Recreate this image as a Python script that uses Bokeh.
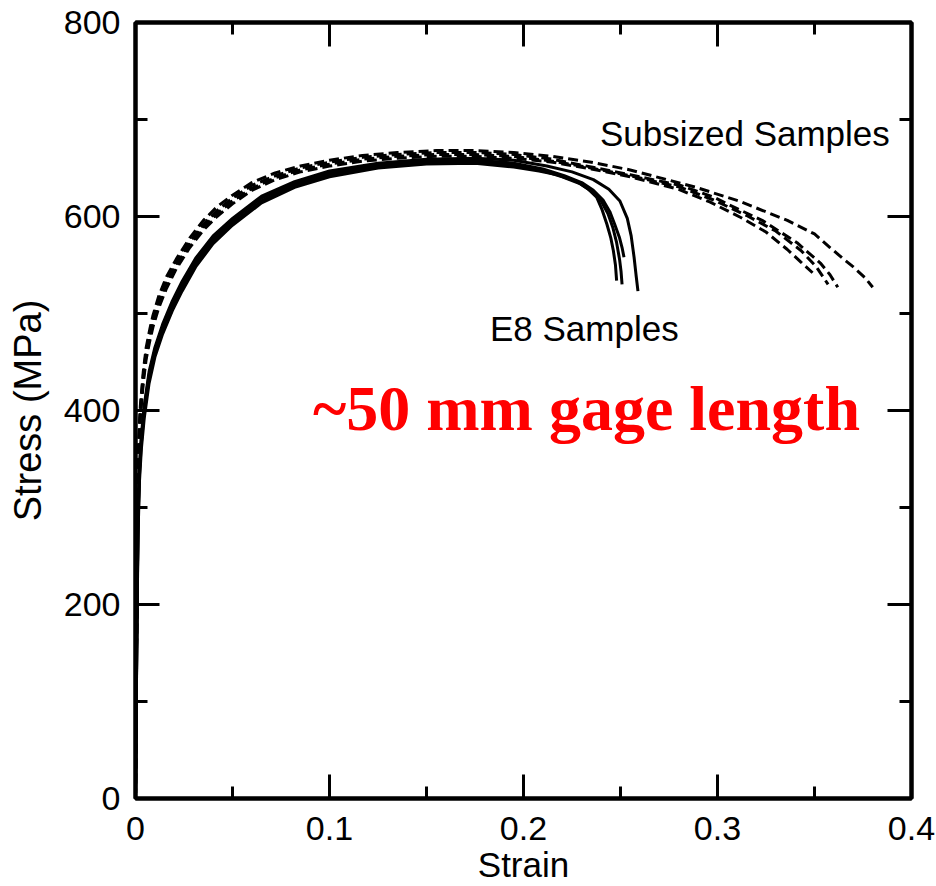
from bokeh.plotting import figure
from bokeh.models import Range1d, FixedTicker, LinearAxis, Label
from bokeh.embed import file_html
from bokeh.resources import INLINE

# ---------------- data ----------------
x_ticks = [0, 0.1, 0.2, 0.3, 0.4]
x_tick_labels = ["0", "0.1", "0.2", "0.3", "0.4"]
x_minor = [0.05, 0.15, 0.25, 0.35]
y_ticks = [0, 200, 400, 600, 800]
y_tick_labels = ["0", "200", "400", "600", "800"]
y_minor = [100, 300, 500, 700]

# E8 samples (solid)
e8_a_strain = [0, 0.0008, 0.0013, 0.002, 0.003, 0.0045, 0.007, 0.010, 0.014, 0.019, 0.024, 0.031, 0.040, 0.050, 0.065, 0.082, 0.100, 0.125, 0.150, 0.175, 0.195, 0.208, 0.2175, 0.2275, 0.233, 0.2377, 0.2405, 0.243, 0.245, 0.2463, 0.2474, 0.248]
e8_a_stress = [0, 185, 270, 325, 360, 392, 428, 455, 479, 503, 523, 548, 572, 591, 614, 630, 641, 650, 654, 655, 651, 647, 643, 636, 629, 620, 607, 592, 578, 565, 550, 534]
e8_b_strain = [0, 0.0008, 0.0013, 0.002, 0.003, 0.0045, 0.007, 0.010, 0.014, 0.019, 0.024, 0.031, 0.040, 0.050, 0.065, 0.082, 0.100, 0.125, 0.150, 0.175, 0.195, 0.210, 0.220, 0.229, 0.235, 0.240, 0.2435, 0.246, 0.248, 0.2495, 0.2503, 0.2508]
e8_b_stress = [0, 190, 278, 332, 366, 398, 433, 459, 483, 507, 527, 551, 575, 593, 616, 632, 643, 651, 655, 656, 653, 647, 641, 634, 626, 616, 603, 589, 573, 556, 543, 530]
e8_c_strain = [0, 0.0008, 0.0013, 0.002, 0.003, 0.0045, 0.007, 0.010, 0.014, 0.019, 0.024, 0.031, 0.040, 0.050, 0.065, 0.082, 0.100, 0.125, 0.150, 0.175, 0.195, 0.210, 0.221, 0.230, 0.236, 0.241, 0.2445, 0.247, 0.2495, 0.2508, 0.2518]
e8_c_stress = [0, 195, 285, 338, 371, 402, 437, 462, 486, 510, 530, 554, 578, 596, 619, 634, 645, 653, 657, 658, 655, 649, 642, 635, 627, 617, 605, 592, 578, 568, 558]
e8_d_strain = [0, 0.0008, 0.0013, 0.002, 0.003, 0.0045, 0.007, 0.010, 0.014, 0.019, 0.024, 0.031, 0.040, 0.050, 0.065, 0.082, 0.100, 0.125, 0.150, 0.175, 0.195, 0.212, 0.225, 0.236, 0.244, 0.2497, 0.2535, 0.2555, 0.257, 0.258, 0.259]
e8_d_stress = [0, 200, 290, 342, 374, 405, 440, 465, 489, 513, 533, 557, 580, 598, 621, 636, 647, 655, 659, 660, 658, 652, 646, 638, 628, 616, 598, 580, 558, 540, 523]

# Subsized samples (dashed)
sub_a_strain = [0, 0.0006, 0.001, 0.0015, 0.0025, 0.004, 0.0055, 0.0075, 0.009, 0.012, 0.016, 0.021, 0.028, 0.035, 0.042, 0.050, 0.060, 0.072, 0.085, 0.100, 0.117, 0.135, 0.155, 0.175, 0.195, 0.215, 0.235, 0.255, 0.272, 0.289, 0.311, 0.336, 0.350, 0.358, 0.365, 0.370, 0.376, 0.380]
sub_a_stress = [0, 180, 290, 360, 405, 440, 465, 485, 498, 518, 538, 556, 578, 596, 610, 622, 635, 645, 652, 658, 663, 666, 668, 668, 666, 662, 656, 648, 639, 630, 616, 596, 582, 568, 556, 548, 537, 527]
sub_b_strain = [0, 0.0006, 0.001, 0.0015, 0.0025, 0.004, 0.0055, 0.0075, 0.009, 0.012, 0.016, 0.021, 0.028, 0.035, 0.042, 0.050, 0.060, 0.072, 0.085, 0.100, 0.117, 0.135, 0.155, 0.175, 0.195, 0.215, 0.235, 0.255, 0.281, 0.298, 0.306, 0.323, 0.341, 0.353, 0.358, 0.362]
sub_b_stress = [0, 178, 286, 356, 401, 436, 461, 481, 494, 514, 534, 552, 574, 592, 606, 619, 632, 642, 650, 656, 661, 664, 666, 666, 664, 659, 651, 643, 632, 620, 612, 596, 573, 552, 540, 527]
sub_c_strain = [0, 0.0006, 0.001, 0.0015, 0.0025, 0.004, 0.0055, 0.0075, 0.009, 0.012, 0.016, 0.021, 0.028, 0.035, 0.042, 0.050, 0.060, 0.072, 0.085, 0.100, 0.117, 0.135, 0.155, 0.175, 0.195, 0.215, 0.235, 0.255, 0.281, 0.298, 0.315, 0.330, 0.343, 0.351, 0.357]
sub_c_stress = [0, 175, 282, 352, 397, 432, 457, 477, 490, 510, 530, 549, 571, 589, 603, 616, 629, 640, 648, 654, 659, 662, 664, 664, 662, 657, 650, 642, 630, 617, 601, 585, 565, 548, 530]
sub_d_strain = [0, 0.0006, 0.001, 0.0015, 0.0025, 0.004, 0.0055, 0.0075, 0.009, 0.012, 0.016, 0.021, 0.028, 0.035, 0.042, 0.050, 0.060, 0.072, 0.085, 0.100, 0.117, 0.135, 0.155, 0.175, 0.195, 0.215, 0.235, 0.255, 0.280, 0.296, 0.312, 0.325, 0.336, 0.343, 0.349]
sub_d_stress = [0, 172, 278, 348, 393, 428, 453, 473, 486, 506, 526, 546, 568, 586, 600, 613, 627, 638, 646, 652, 657, 660, 662, 662, 660, 656, 649, 641, 628, 615, 599, 584, 566, 553, 542]

solid_curves = [(e8_a_strain, e8_a_stress), (e8_b_strain, e8_b_stress),
                (e8_c_strain, e8_c_stress), (e8_d_strain, e8_d_stress)]
dashed_curves = [(sub_a_strain, sub_a_stress), (sub_b_strain, sub_b_stress),
                 (sub_c_strain, sub_c_stress), (sub_d_strain, sub_d_stress)]

label_subsized = "Subsized Samples"
label_e8 = "E8 Samples"
label_gage = "~50 mm gage length"
x_title = "Strain"
y_title = "Stress (MPa)"

# ---------------- figure ----------------
SANS = "Liberation Sans"
p = figure(width=936, height=886, output_backend="svg", toolbar_location=None,
           x_range=Range1d(0, 0.4), y_range=Range1d(0, 800),
           min_border_left=135, min_border_right=25, min_border_top=22, min_border_bottom=88,
           background_fill_color="white", border_fill_color="white")
p.xgrid.visible = False
p.ygrid.visible = False
p.outline_line_color = "black"
p.outline_line_width = 4
p.outline_line_alpha = 1

bottom_ax = p.below[0]
left_ax = p.left[0]
bottom_ax.ticker = FixedTicker(ticks=x_ticks, minor_ticks=x_minor)
left_ax.ticker = FixedTicker(ticks=y_ticks, minor_ticks=y_minor)
bottom_ax.major_label_overrides = dict(zip(x_ticks, x_tick_labels))
left_ax.major_label_overrides = dict(zip(y_ticks, y_tick_labels))
bottom_ax.axis_label = x_title
left_ax.axis_label = y_title

# mirrored axes (ticks only, empty labels)
top_ax = LinearAxis(ticker=FixedTicker(ticks=x_ticks, minor_ticks=x_minor),
                    major_label_overrides={t: "" for t in x_ticks},
                    major_label_standoff=0)
right_ax = LinearAxis(ticker=FixedTicker(ticks=y_ticks, minor_ticks=y_minor),
                      major_label_overrides={t: "" for t in y_ticks},
                      major_label_standoff=0)
p.add_layout(top_ax, "above")
p.add_layout(right_ax, "right")

for ax in [bottom_ax, left_ax, top_ax, right_ax]:
    ax.axis_line_color = "black"
    ax.axis_line_width = 4
    ax.major_tick_in = 24
    ax.major_tick_out = 0
    ax.minor_tick_in = 12
    ax.minor_tick_out = 0
    ax.major_tick_line_color = "black"
    ax.minor_tick_line_color = "black"
    ax.major_tick_line_width = 3
    ax.minor_tick_line_width = 3
    ax.major_label_text_font = SANS
    ax.major_label_text_color = "black"
    ax.axis_label_text_font = SANS
    ax.axis_label_text_font_style = "normal"
    ax.axis_label_text_color = "black"

bottom_ax.major_label_text_font_size = "34px"
left_ax.major_label_text_font_size = "34px"
bottom_ax.axis_label_text_font_size = "35px"
left_ax.axis_label_text_font_size = "38px"
bottom_ax.major_label_standoff = 18
left_ax.major_label_standoff = 15
bottom_ax.axis_label_standoff = 2
left_ax.axis_label_standoff = 12

for xs, ys in solid_curves:
    p.line(xs, ys, line_color="black", line_width=3)
for xs, ys in dashed_curves:
    p.line(xs, ys, line_color="black", line_width=3, line_dash="10 5")

p.add_layout(Label(x=0.2394, y=686, text=label_subsized, text_font=SANS,
                   text_font_size="35px", text_color="black", text_baseline="alphabetic"))
p.add_layout(Label(x=0.1827, y=485, text=label_e8, text_font=SANS,
                   text_font_size="35px", text_color="black", text_baseline="alphabetic"))
p.add_layout(Label(x=0.0915, y=402, text=label_gage, text_font="Liberation Serif",
                   text_font_style="bold", text_font_size="64px", text_color="#ff0000",
                   text_baseline="alphabetic"))

open("out.html", "w").write(file_html(p, INLINE))
